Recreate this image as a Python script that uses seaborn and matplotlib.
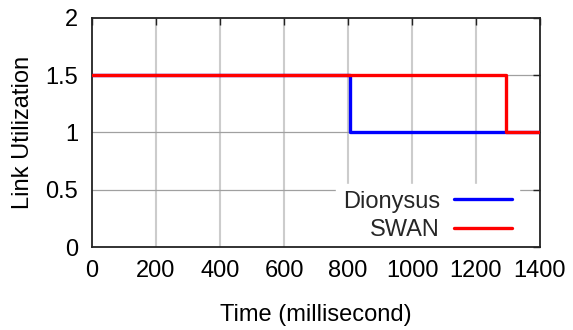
import matplotlib
matplotlib.use("Agg")
import matplotlib.pyplot as plt
import seaborn as sns
import pandas as pd

# Link utilization over time for the two schemes (step changes)
dionysus_time = [0, 805, 1400]
dionysus_util = [1.5, 1.0, 1.0]
swan_time = [0, 1295, 1400]
swan_util = [1.5, 1.0, 1.0]

x_ticks = [0, 200, 400, 600, 800, 1000, 1200, 1400]
y_ticks = [0, 0.5, 1, 1.5, 2]
y_tick_labels = ["0", "0.5", "1", "1.5", "2"]

sns.set_theme(style="white")
plt.rcParams["font.family"] = ["Liberation Sans", "DejaVu Sans"]

df_d = pd.DataFrame({"t": dionysus_time, "u": dionysus_util})
df_s = pd.DataFrame({"t": swan_time, "u": swan_util})

fig = plt.figure(figsize=(5.73, 3.30), dpi=100)
ax = fig.add_axes([0.1606, 0.2515, 0.7818, 0.694])

# Grid drawn as background lines so the legend box can hide them
# while the tick marks and frame stay visible on top
for xv in x_ticks[1:-1]:
    ax.axvline(xv, color="#cccccc", linewidth=1.5, zorder=0.5)
for yv in y_ticks[1:-1]:
    ax.axhline(yv, color="#a0a0a0", linewidth=0.9, zorder=0.5)

sns.lineplot(data=df_d, x="t", y="u", ax=ax, color="#0000ff", linewidth=2.4,
             drawstyle="steps-post", label="Dionysus", zorder=3)
sns.lineplot(data=df_s, x="t", y="u", ax=ax, color="#ff0000", linewidth=2.4,
             drawstyle="steps-post", label="SWAN", zorder=4)

ax.set_xlim(0, 1400)
ax.set_ylim(0, 2)
ax.set_xticks(x_ticks)
ax.set_yticks(y_ticks)
ax.set_yticklabels(y_tick_labels)
ax.grid(False)

for s in ax.spines.values():
    s.set_color("#222222")
    s.set_linewidth(1.3)
ax.tick_params(axis="both", direction="in", length=5, width=1, color="#222222",
               labelsize=17, top=True, right=True, labelcolor="black")
ax.tick_params(axis="y", pad=10)
ax.tick_params(axis="x", pad=9)

ax.set_xlabel("Time (millisecond)", fontsize=17, labelpad=16, color="black")
ax.set_ylabel("Link Utilization", fontsize=17, labelpad=8, color="black")

leg = ax.legend(loc="lower right", bbox_to_anchor=(0.953, -0.005),
                markerfirst=False, fontsize=17, frameon=True,
                handlelength=2.45, handletextpad=0.6, labelspacing=0.27,
                borderaxespad=0.0, fancybox=False, borderpad=0.3)
leg.get_frame().set_facecolor("white")
leg.get_frame().set_edgecolor("white")
leg.get_frame().set_alpha(1.0)
leg.set_zorder(2)

fig.savefig("out.png", dpi=100)
